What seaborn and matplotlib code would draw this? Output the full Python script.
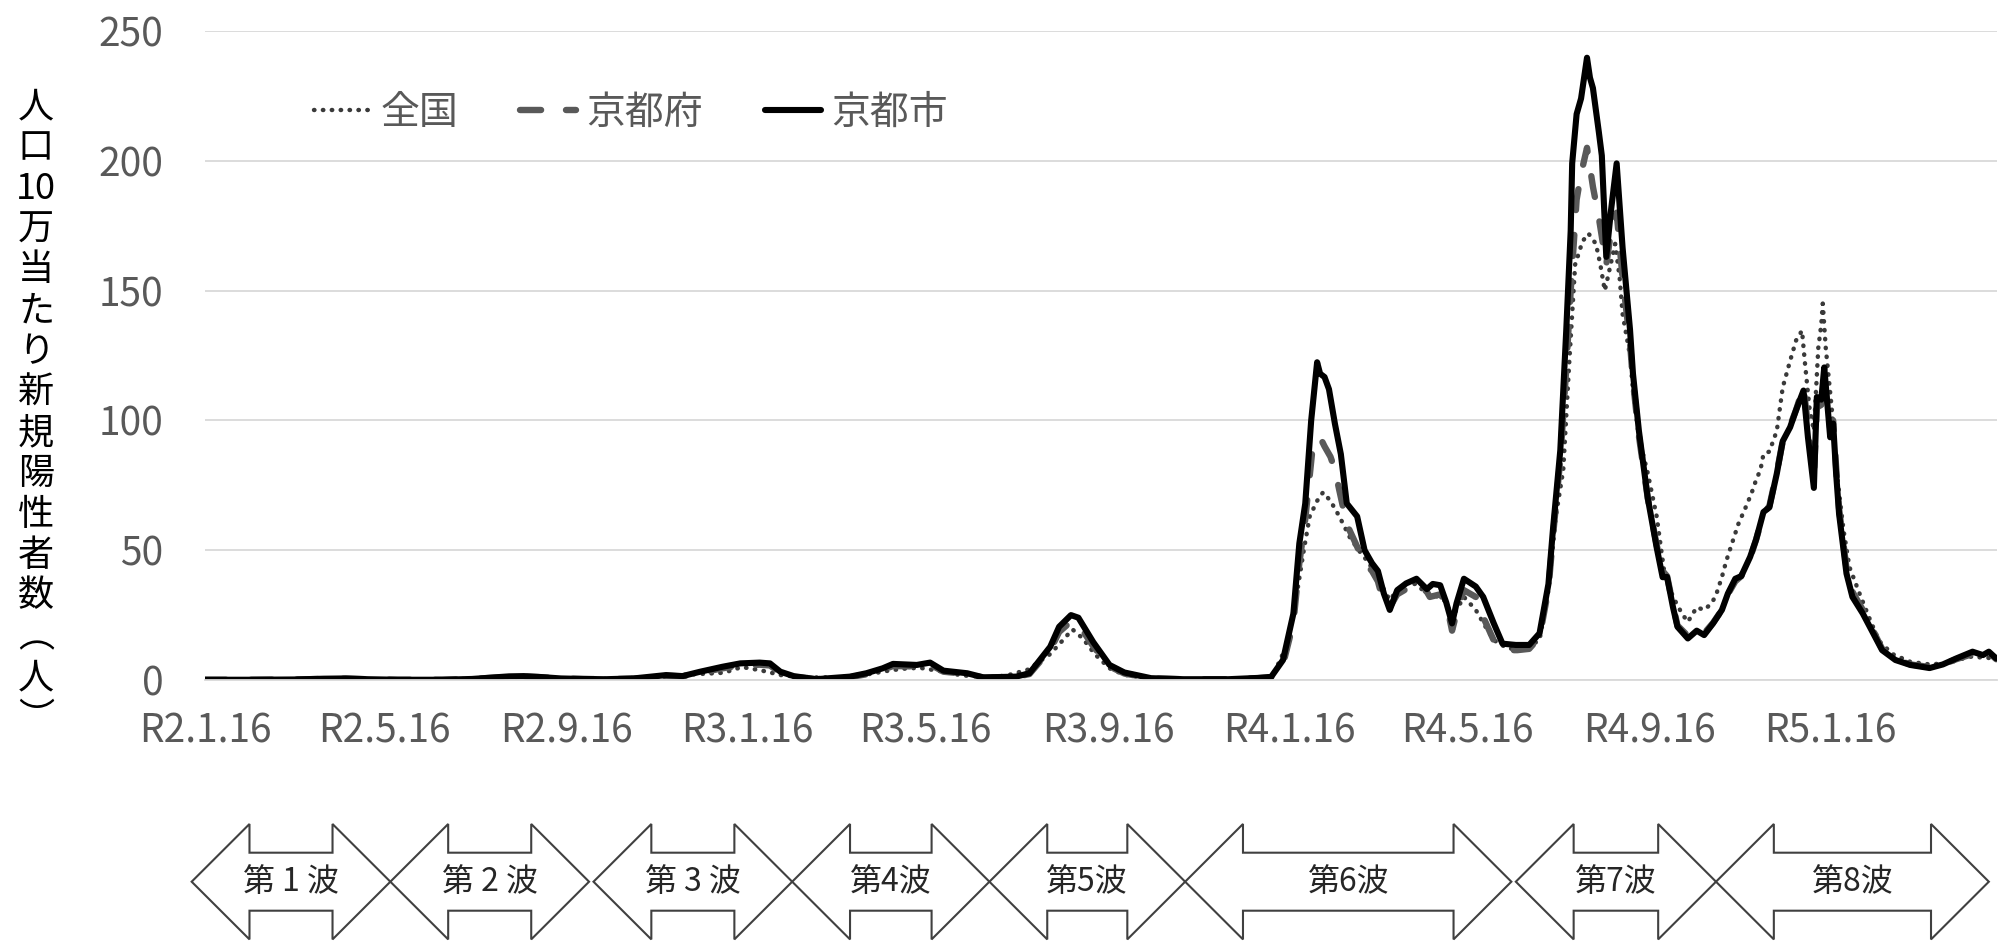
import matplotlib
matplotlib.use('Agg')
import matplotlib.pyplot as plt
import matplotlib.dates as mdates
from matplotlib.patches import Polygon
import pandas as pd
import seaborn as sns

sns.set_style('white')
plt.rcParams['font.family'] = ['Noto Sans CJK JP', 'DejaVu Sans']

start = pd.Timestamp('2020-01-16')  # R2.1.16

# 京都市 : days since R2.1.16 / value per 100k
city_day = [0, 30, 60, 80, 95, 110, 130, 160, 180, 195,
            205, 215, 225, 240, 255, 270, 289, 311, 322, 334,
            349, 361, 374, 381, 388, 397, 412, 435, 446, 457,
            464, 480, 489, 498, 514, 525, 547, 556, 563, 570,
            576, 584, 589, 599, 610, 620, 638, 660, 690, 710,
            719, 727, 734, 738, 742, 746, 750, 752, 755, 758,
            762, 766, 770, 777, 782, 787, 791, 795, 799, 804,
            810, 817, 824, 828, 833, 837, 841, 844, 849, 857,
            862, 869, 875, 884, 893, 900, 906, 909, 914, 918,
            921, 922, 925, 928, 932, 934, 936, 940, 942, 945,
            948, 952, 956, 961, 963, 967, 973, 979, 983, 986,
            990, 993, 1000, 1006, 1011, 1017, 1023, 1027, 1032, 1036,
            1042, 1046, 1051, 1055, 1060, 1064, 1069, 1073, 1078, 1081,
            1085, 1087, 1090, 1092, 1096, 1098, 1100, 1102, 1107, 1111,
            1118, 1125, 1131, 1140, 1150, 1163, 1172, 1181, 1192, 1199,
            1203, 1208]
city_val = [0.1, 0.1, 0.2, 0.5, 0.6, 0.3, 0.1, 0.1, 0.4, 1.0,
            1.4, 1.5, 1.2, 0.6, 0.4, 0.3, 0.6, 1.9, 1.5, 3.2,
            5.1, 6.4, 6.7, 6.4, 3.2, 1.5, 0.3, 1.3, 2.6, 4.5,
            6.2, 5.8, 6.7, 3.6, 2.6, 1.0, 1.3, 2.6, 7.7, 12.8,
            20.5, 25.0, 24.0, 14.6, 5.8, 2.9, 0.7, 0.3, 0.3, 0.8,
            1.2, 7.7, 25.6, 52.6, 68, 100, 122.4, 118, 116.7, 112,
            98.7, 87, 68, 63, 50, 45, 42, 33.3, 27, 34.6,
            37.2, 39, 35, 37, 36.5, 30, 21.8, 29.5, 39, 36,
            32, 22, 14, 13.5, 13.5, 18, 37, 57.7, 88.5, 134.6,
            173, 199, 218, 224, 239.7, 232, 228, 211, 202, 163,
            180, 199, 166.5, 135, 118, 96, 70, 51, 39.6, 39.7,
            28, 20.5, 16, 19, 17.3, 21.8, 27, 33.3, 39, 40,
            47.4, 54, 64.7, 66.5, 79.5, 92, 97.4, 104, 111.5, 93.5,
            74, 109, 108, 120.4, 93.5, 98.8, 79.6, 64, 41, 32,
            25.6, 18, 11.5, 7.7, 5.8, 4.6, 6, 8.3, 10.9, 9.6,
            10.9, 8.3]

# 京都府
pref_day = [0, 30, 60, 80, 95, 110, 130, 160, 180, 195,
            205, 215, 225, 240, 255, 270, 289, 311, 322, 334,
            349, 361, 374, 381, 388, 397, 412, 435, 446, 457,
            464, 480, 489, 498, 514, 525, 547, 556, 563, 570,
            576, 584, 589, 599, 610, 620, 638, 660, 690, 710,
            719, 727, 734, 738, 742, 747, 752, 755, 759, 762,
            765, 770, 776, 782, 787, 791, 795, 799, 804, 810,
            817, 824, 826, 833, 837, 841, 845, 849, 857, 863,
            869, 876, 885, 893, 900, 906, 909, 914, 918, 921,
            925, 928, 932, 936, 940, 945, 948, 952, 956, 961,
            963, 967, 973, 979, 983, 986, 990, 993, 1000, 1006,
            1011, 1017, 1023, 1027, 1032, 1036, 1042, 1046, 1051, 1055,
            1060, 1064, 1069, 1073, 1078, 1081, 1085, 1087, 1090, 1092,
            1096, 1098, 1100, 1102, 1107, 1111, 1118, 1125, 1131, 1140,
            1150, 1163, 1172, 1181, 1192, 1199, 1203, 1208]
pref_val = [0.1, 0.1, 0.2, 0.4, 0.5, 0.3, 0.1, 0.1, 0.4, 0.9,
            1.2, 1.3, 1.1, 0.6, 0.4, 0.3, 0.5, 1.6, 1.4, 2.8,
            4.5, 5.6, 5.9, 5.6, 2.8, 1.3, 0.3, 1.1, 2.2, 3.9,
            5.4, 5.2, 6.0, 3.2, 2.3, 0.9, 1.2, 2.3, 7.0, 11.5,
            18.5, 22.5, 21.5, 13.0, 5.2, 2.5, 0.6, 0.3, 0.3, 0.7,
            1.0, 6.0, 22, 45, 62, 89.7, 93.5, 90, 86, 81,
            73, 60, 52.6, 45, 42, 38, 29.5, 28, 33, 35,
            37, 34, 32, 33, 30, 19, 28, 34.6, 32, 23,
            15.4, 11.5, 11.5, 12, 16.5, 35, 55, 85, 120, 150,
            185, 195, 205, 190, 178, 160, 172, 180, 155, 130,
            115, 94, 70, 52, 42, 40, 29, 21, 17, 19,
            18, 22, 27, 33, 38, 40, 47, 54, 64, 67,
            80, 92, 98, 104, 113, 98, 78, 105, 106, 116,
            97, 100, 82, 66, 43, 34, 27, 19, 12, 8,
            6, 5, 6, 8, 10, 9.5, 10.5, 8]

# 全国
nat_day = [0, 40, 70, 87, 110, 140, 170, 200, 210, 225,
           250, 270, 290, 310, 330, 350, 362, 375, 390, 410,
           430, 445, 460, 470, 482, 495, 510, 525, 540, 555,
           570, 578, 585, 592, 600, 610, 620, 640, 700, 720,
           729, 736, 741, 745, 750, 754, 759, 765, 772, 778,
           785, 792, 799, 804, 810, 817, 824, 833, 837, 841,
           849, 857, 862, 869, 878, 889, 900, 906, 911, 916,
           920, 924, 929, 933, 938, 941, 944, 946, 951, 954,
           956, 961, 963, 967, 973, 979, 984, 990, 996, 1000,
           1006, 1011, 1016, 1019, 1023, 1026, 1030, 1034, 1039, 1043,
           1046, 1049, 1051, 1055, 1060, 1064, 1069, 1073, 1077, 1079,
           1082, 1085, 1088, 1090, 1091, 1093, 1097, 1100, 1105, 1109,
           1116, 1123, 1129, 1138, 1150, 1163, 1175, 1190, 1208]
nat_val = [0.0, 0.05, 0.3, 0.45, 0.2, 0.05, 0.3, 1.0, 1.1, 0.8,
           0.4, 0.45, 0.8, 1.5, 2.2, 2.8, 5.0, 3.7, 1.7, 1.0,
           1.0, 2.0, 3.5, 4.3, 4.7, 3.5, 1.8, 1.2, 1.6, 4.0,
           10, 15, 19.5, 16, 10, 4.5, 2, 0.3, 0.15, 1.5,
           12.7, 32, 50, 63, 69, 72.3, 69, 63, 55, 50,
           45, 38, 30.8, 34.6, 37, 37, 33, 32, 30, 24,
           32, 27, 22, 15.4, 12.3, 11.5, 15.4, 34.6, 63, 81,
           122, 160, 169, 172, 168, 160, 150, 155, 168, 155,
           141, 125, 111.5, 93.5, 79.6, 63, 42, 32, 25.6, 22.4,
           28, 27, 29.5, 32.7, 39.7, 46, 53, 60, 66.5, 72,
           77, 81, 87, 88, 96, 112.7, 123, 130.8, 134.6, 122,
           105, 96, 128, 137, 145, 128, 105, 82, 57.7, 43.5,
           33, 23, 15, 10, 7, 6, 6.5, 9, 8.3]

tick_dates = ['2020-01-16', '2020-05-16', '2020-09-16', '2021-01-16', '2021-05-16',
              '2021-09-16', '2022-01-16', '2022-05-16', '2022-09-16', '2023-01-16']
tick_labels = ['R2.1.16', 'R2.5.16', 'R2.9.16', 'R3.1.16', 'R3.5.16',
               'R3.9.16', 'R4.1.16', 'R4.5.16', 'R4.9.16', 'R5.1.16']

wave_names = ['第 1 波', '第 2 波', '第 3 波', '第4波', '第5波', '第6波', '第7波', '第8波']
wave_start = ['2020-01-07', '2020-05-20', '2020-10-04', '2021-02-15',
              '2021-06-28', '2021-11-07', '2022-06-18', '2022-10-31']
wave_end = ['2020-05-20', '2020-10-01', '2021-02-15', '2021-06-28',
            '2021-11-07', '2022-06-15', '2022-10-31', '2023-05-03']


def series(days, vals):
    return pd.DataFrame({'date': start + pd.to_timedelta(days, unit='D'), 'value': vals})


fig = plt.figure(figsize=(20.11, 9.41), dpi=100)
ax = fig.add_axes([205 / 2011, 1 - 680 / 941, 1792 / 2011, 649 / 941])

sns.lineplot(data=series(nat_day, nat_val), x='date', y='value', ax=ax,
             estimator=None, errorbar=None, color='#3a3a3a', lw=3.2,
             linestyle=(0, (0.1, 1.9)), dash_capstyle='round', label='全国')
sns.lineplot(data=series(pref_day, pref_val), x='date', y='value', ax=ax,
             estimator=None, errorbar=None, color='#595959', lw=4.6,
             linestyle=(0, (3.3, 3.9)), dash_capstyle='round', label='京都府')
sns.lineplot(data=series(city_day, city_val), x='date', y='value', ax=ax,
             estimator=None, errorbar=None, color='black', lw=4.4,
             solid_joinstyle='round', label='京都市')

ax.set_xlim(start, pd.Timestamp('2023-05-08 12:00'))
ax.set_ylim(0, 250)
ax.set_yticks(range(0, 251, 50))
ax.set_xticks(pd.to_datetime(tick_dates))
ax.set_xticklabels(tick_labels)
ax.set_xlabel('')
ax.set_ylabel('')
ax.grid(axis='y', color='#d9d9d9', lw=1.3)
ax.set_axisbelow(True)
for s in ['top', 'right', 'left']:
    ax.spines[s].set_visible(False)
ax.spines['bottom'].set_color('#d9d9d9')
ax.spines['bottom'].set_linewidth(1.3)
ax.tick_params(axis='x', length=12, width=1.3, color='#d9d9d9', pad=11,
               labelsize=28, labelcolor='#595959')
ax.tick_params(axis='y', length=0, pad=30, labelsize=28, labelcolor='#595959')

ax.legend(loc='center left', bbox_to_anchor=(0.0608, 0.874), ncol=3, frameon=False,
          fontsize=28, handlelength=1.45, handletextpad=0.25, columnspacing=1.6,
          borderpad=0, borderaxespad=0, labelcolor='#595959')

# y label, stacked vertically
fig.text(36 / 2011, 1 - 413 / 941, '人\n口\n10\n万\n当\nた\nり\n新\n規\n陽\n性\n者\n数\n︵\n人\n︶',
         ha='center', va='center', fontsize=26, linespacing=1.17, color='black')

# wave arrows under the time axis
axw = fig.add_axes([205 / 2011, 0, 1792 / 2011, 126 / 941])
axw.set_xlim(ax.get_xlim())
axw.set_ylim(0, 126)
axw.axis('off')
head = 39
cy, hh, sh = 59.3, 57.7, 29
for name, s, e in zip(wave_names, wave_start, wave_end):
    x0 = mdates.date2num(pd.Timestamp(s))
    x1 = mdates.date2num(pd.Timestamp(e))
    pts = [(x0, cy), (x0 + head, cy + hh), (x0 + head, cy + sh), (x1 - head, cy + sh),
           (x1 - head, cy + hh), (x1, cy), (x1 - head, cy - hh), (x1 - head, cy - sh),
           (x0 + head, cy - sh), (x0 + head, cy - hh)]
    axw.add_patch(Polygon(pts, closed=True, fc='white', ec='#404040', lw=1.5, clip_on=False))
    axw.text((x0 + x1) / 2, cy, name, ha='center', va='center', fontsize=23, color='#262626')

fig.savefig('out.png', dpi=100)
